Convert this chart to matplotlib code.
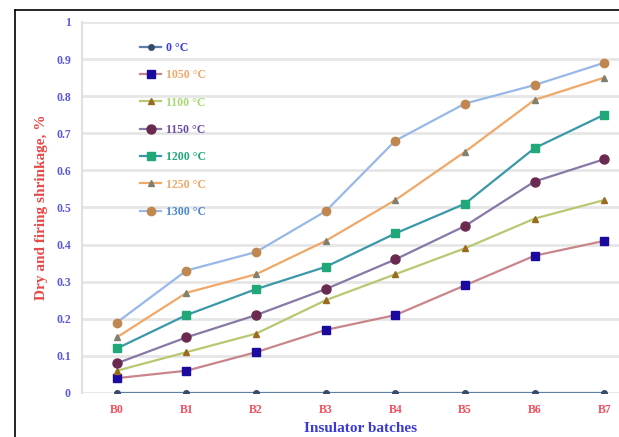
import numpy as np
import matplotlib.pyplot as plt
from matplotlib.lines import Line2D

batches = ['B0', 'B1', 'B2', 'B3', 'B4', 'B5', 'B6', 'B7']
temps = ['0 °C', '1050 °C', '1100 °C', '1150 °C', '1200 °C', '1250 °C', '1300 °C']
s0 = [0, 0, 0, 0, 0, 0, 0, 0]
s1050 = [0.04, 0.06, 0.11, 0.17, 0.21, 0.29, 0.37, 0.41]
s1100 = [0.06, 0.11, 0.16, 0.25, 0.32, 0.39, 0.47, 0.52]
s1150 = [0.08, 0.15, 0.21, 0.28, 0.36, 0.45, 0.57, 0.63]
s1200 = [0.12, 0.21, 0.28, 0.34, 0.43, 0.51, 0.66, 0.75]
s1250 = [0.15, 0.27, 0.32, 0.41, 0.52, 0.65, 0.79, 0.85]
s1300 = [0.19, 0.33, 0.38, 0.49, 0.68, 0.78, 0.83, 0.89]
series = [s0, s1050, s1100, s1150, s1200, s1250, s1300]

# line colour, marker, marker colour, marker size, legend text colour
styles = [
    ('#5b7fa8', 'o', '#3a4a6a', 4, '#3a3adc'),
    ('#c8868a', 's', '#1a0aa0', 6, '#f0a868'),
    ('#b8c870', '^', '#9a6a20', 5, '#a8d870'),
    ('#8878a8', 'o', '#6a2a50', 6.5, '#6a4aa8'),
    ('#3a98a8', 's', '#20a878', 6, '#20a878'),
    ('#f0a868', '^', '#808070', 5, '#f0a868'),
    ('#98b8e8', 'o', '#c08850', 6, '#4a88d0'),
]

serif = ['Liberation Serif', 'DejaVu Serif']
fig = plt.figure(figsize=(6.19, 4.37), dpi=100)
ax = fig.add_axes([0.1325, 0.1007, 0.8998, 0.849])

x = np.arange(len(batches))
for vals, st in zip(series, styles):
    ax.plot(x, vals, color=st[0], lw=1.6, marker=st[1], ms=st[3],
            mfc=st[2], mec=st[2], zorder=3)

ax.set_xlim(-0.5, 7.5)
ax.set_ylim(0, 1)
ax.set_yticks(np.arange(0, 1.01, 0.1))
ax.set_yticklabels(['0', '0.1', '0.2', '0.3', '0.4', '0.5', '0.6', '0.7', '0.8', '0.9', '1'],
                   family=serif, fontweight='bold', fontsize=8.5, color='#5a5ad8')
ax.set_xticks(x)
ax.set_xticklabels(batches, family=serif, fontweight='bold', fontsize=8.5, color='#f05060')
ax.tick_params(length=0, pad=8)
ax.grid(axis='y', color='#e6e6e6', lw=2)
ax.set_axisbelow(True)
for side in ['top', 'right', 'bottom']:
    ax.spines[side].set_visible(False)
ax.spines['left'].set_color('#e0e0e0')
ax.spines['left'].set_linewidth(1.5)

ax.set_ylabel('Dry and firing shrinkage, %', family=serif, fontweight='bold',
              fontsize=11, color='#e84848', labelpad=6)
ax.set_xlabel('Insulator batches', family=serif, fontweight='bold',
              fontsize=11, color='#3a3ad8', labelpad=4)

handles = [Line2D([], [], color=st[0], lw=1.6, marker=st[1], ms=st[3],
                  mfc=st[2], mec=st[2]) for st in styles]
leg = ax.legend(handles, temps, loc='upper left', bbox_to_anchor=(0.085, 0.975),
                frameon=False, handlelength=1.8, handletextpad=0.4, labelspacing=1.3,
                prop={'family': serif, 'weight': 'bold', 'size': 8.5})
for txt, st in zip(leg.get_texts(), styles):
    txt.set_color(st[4])

# outer frame (left and top edges visible)
fig.add_artist(Line2D([15 / 619, 15 / 619], [0, 1 - 10 / 437], color='black', lw=1.2,
                      transform=fig.transFigure))
fig.add_artist(Line2D([15 / 619, 1], [1 - 10 / 437, 1 - 10 / 437], color='black', lw=1.2,
                      transform=fig.transFigure))

fig.savefig('out.png', dpi=100)
